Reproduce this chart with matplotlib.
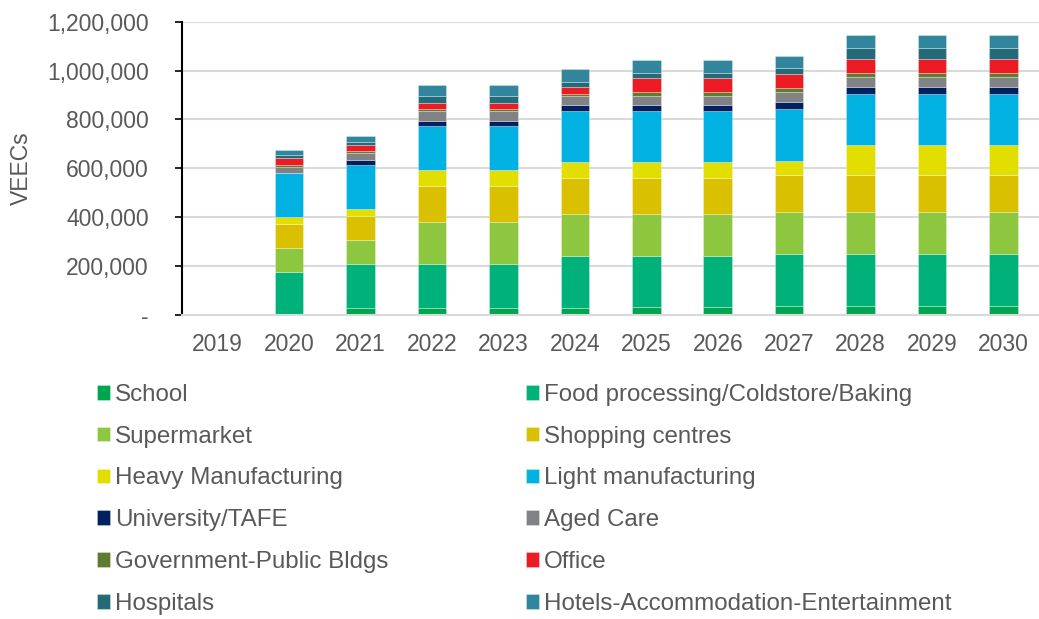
import matplotlib.pyplot as plt
import numpy as np
from matplotlib.ticker import FuncFormatter

plt.rcParams['font.family'] = ['Liberation Sans', 'DejaVu Sans']

years = ["2019", "2020", "2021", "2022", "2023", "2024", "2025", "2026", "2027", "2028", "2029", "2030"]

# values in thousands of VEECs
school = [0, 0, 30, 30, 30, 30, 31, 31, 38, 38, 38, 38]
food = [0, 177, 179, 180, 180, 213, 211, 211, 213, 213, 213, 213]
supermarket = [0, 98, 100, 172, 172, 172, 173, 173, 172, 172, 172, 172]
shopping = [0, 99, 98, 147, 147, 147, 146, 146, 148, 148, 148, 148]
heavy = [0, 26, 26, 63, 63, 63, 63, 63, 61, 123, 123, 123]
light = [0, 180, 179, 181, 181, 211, 211, 211, 211, 211, 211, 211]
university = [0, 0, 22, 20, 20, 22, 23, 23, 29, 27, 27, 27]
aged = [0, 27, 27, 40, 40, 38, 37, 37, 40, 40, 40, 40]
government = [0, 8, 8, 8, 8, 10, 19, 19, 18, 18, 18, 18]
office = [0, 27, 26, 27, 27, 26, 54, 54, 54, 56, 56, 56]
hospitals = [0, 12, 14, 27, 27, 23, 22, 22, 25, 48, 48, 48]
hotels = [0, 22, 25, 48, 48, 52, 52, 52, 50, 50, 50, 50]

series = [
    ("School", school, "#00A54F"),
    ("Food processing/Coldstore/Baking", food, "#00B179"),
    ("Supermarket", supermarket, "#8DC63F"),
    ("Shopping centres", shopping, "#D9C000"),
    ("Heavy Manufacturing", heavy, "#E1DE00"),
    ("Light manufacturing", light, "#00B1E1"),
    ("University/TAFE", university, "#002060"),
    ("Aged Care", aged, "#808285"),
    ("Government-Public Bldgs", government, "#5E7B2E"),
    ("Office", office, "#ED1C24"),
    ("Hospitals", hospitals, "#246A78"),
    ("Hotels-Accommodation-Entertainment", hotels, "#31859C"),
]

fig = plt.figure(figsize=(10.39, 6.19), dpi=100)
ax = fig.add_axes([0.1752, 0.491, 0.825, 0.474])

x = np.arange(len(years))
bottom = np.zeros(len(years))
handles = []
for name, vals, col in series:
    v = np.array(vals) * 1000.0
    b = ax.bar(x, v, 0.4, bottom=bottom, color=col, label=name,
               edgecolor=(1, 1, 1, 0.35), linewidth=0.6)
    handles.append(b)
    bottom += v

ax.set_xlim(-0.5, len(years) - 0.5)
ax.set_ylim(0, 1200000)
ax.set_yticks(np.arange(0, 1200001, 200000))
ax.yaxis.set_major_formatter(FuncFormatter(lambda v, p: "-" if v == 0 else f"{int(v):,}"))
ax.set_xticks(x)
ax.set_xticklabels(years)
ax.grid(axis="y", color="#D9D9D9", linewidth=1.5)
ax.set_axisbelow(True)
for s in ["top", "right"]:
    ax.spines[s].set_visible(False)
ax.spines["bottom"].set_color("#D9D9D9")
ax.spines["bottom"].set_linewidth(1.5)
ax.spines["left"].set_color("black")
ax.spines["left"].set_linewidth(1.5)
ax.tick_params(axis="y", colors="black", labelcolor="#595959", labelsize=16.5, length=5, width=1.2, pad=19)
ax.tick_params(axis="x", length=0, labelcolor="#595959", labelsize=16.5, pad=13)
ax.set_ylabel("VEECs", fontsize=16.5, color="#595959", labelpad=10)

left_col = [handles[i] for i in range(0, 12, 2)]
right_col = [handles[i] for i in range(1, 12, 2)]
kw = dict(frameon=False, fontsize=17.4, labelcolor="#595959", handlelength=0.55,
          handleheight=0.55, handletextpad=0.2, labelspacing=0.82, borderaxespad=0, borderpad=0)
fig.legend(left_col, [series[i][0] for i in range(0, 12, 2)], loc="upper left",
           bbox_to_anchor=(0.093, 0.38), **kw)
fig.legend(right_col, [series[i][0] for i in range(1, 12, 2)], loc="upper left",
           bbox_to_anchor=(0.506, 0.38), **kw)

fig.savefig("out.png", dpi=100)
